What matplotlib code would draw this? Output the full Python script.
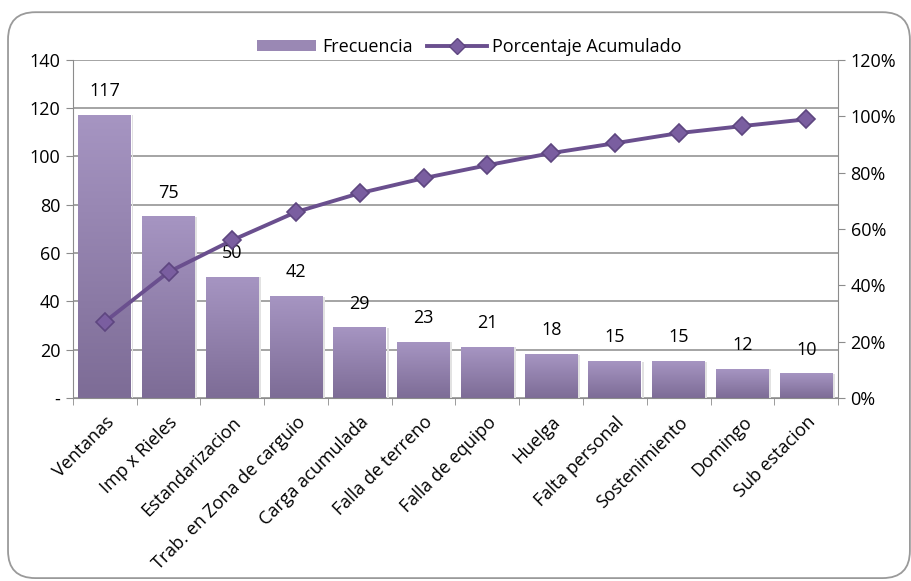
import numpy as np
import matplotlib
matplotlib.use("Agg")
import matplotlib.pyplot as plt
from matplotlib.patches import FancyBboxPatch
from matplotlib.lines import Line2D
from matplotlib.patches import Patch
from matplotlib.colors import LinearSegmentedColormap
from matplotlib.ticker import FuncFormatter

plt.rcParams['font.family'] = ['Open Sans', 'DejaVu Sans']

causas = ['Ventanas', 'Imp x Rieles', 'Estandarizacion', 'Trab. en Zona de carguio',
          'Carga acumulada', 'Falla de terreno', 'Falla de equipo', 'Huelga',
          'Falta personal', 'Sostenimiento', 'Domingo', 'Sub estacion']
frecuencia = [117, 75, 50, 42, 29, 23, 21, 18, 15, 15, 12, 10]
porc_acum = [27.0, 44.7, 56.0, 66.0, 72.7, 78.0, 82.6, 86.9, 90.4, 94.0, 96.5, 98.9]

bar_top = '#a695c2'
bar_bot = '#7d6c96'
line_col = '#6a4f8e'
fs = 13

fig = plt.figure(figsize=(9.11, 5.81), dpi=100)
ax = fig.add_axes([0.080, 0.315, 0.840, 0.582])
ax2 = ax.twinx()

x = np.arange(len(causas))
w = 0.83
bars = ax.bar(x, frecuencia, width=w, color=bar_top, zorder=2)

# vertical gradient inside each bar
cmap = LinearSegmentedColormap.from_list('grad', [bar_bot, bar_top])
grad = np.linspace(0, 1, 256).reshape(-1, 1)
for b in bars:
    x0, y0 = b.get_x(), b.get_y()
    ax.imshow(grad, cmap=cmap, origin='lower', aspect='auto', zorder=2.1,
              extent=(x0, x0 + b.get_width(), y0, y0 + b.get_height()))
    # soft shadow to the right
    ax.bar(x0 + b.get_width() + 0.005, b.get_height(), width=0.03, align='edge',
           color='#e2e2e2', zorder=1.9)

for xi, v in zip(x, frecuencia):
    ax.annotate(str(v), (xi, v), xytext=(0, 11), textcoords='offset points',
                ha='center', va='bottom', fontsize=fs, zorder=5)

ax.set_xlim(-0.5, len(causas) - 0.5)
ax.set_ylim(0, 140)
ax.set_yticks(range(0, 141, 20))
ax.yaxis.set_major_formatter(FuncFormatter(lambda v, p: '-' if v == 0 else '%d' % v))
ax.grid(axis='y', color='#8c8c8c', linewidth=1.1, zorder=0)
ax.set_axisbelow(True)

ax.set_xticks(x)
ax.set_xticklabels(causas, rotation=45, ha='right', rotation_mode='anchor', fontsize=fs)
ax.set_xticks(np.arange(-0.5, len(causas), 1), minor=True)
ax.tick_params(axis='x', which='major', length=0, pad=11)
ax.tick_params(axis='x', which='minor', length=5, color='#8c8c8c', direction='out')
ax.tick_params(axis='y', length=5, color='#8c8c8c', labelsize=fs, pad=4)

ax2.plot(x, porc_acum, color=line_col, linewidth=2.8, marker='D', markersize=9,
         markerfacecolor='#7a5ea0', markeredgecolor='#5e4680', markeredgewidth=1.2,
         zorder=4)
ax2.set_ylim(0, 120)
ax2.set_yticks(range(0, 121, 20))
ax2.yaxis.set_major_formatter(FuncFormatter(lambda v, p: '%d%%' % v))
ax2.tick_params(axis='y', length=5, color='#8c8c8c', labelsize=fs, pad=4)

for a in (ax, ax2):
    for s in a.spines.values():
        s.set_visible(False)
ax.spines['left'].set_visible(True)
ax.spines['left'].set_color('#8c8c8c')
ax.spines['bottom'].set_visible(True)
ax.spines['bottom'].set_color('#8c8c8c')
ax2.spines['right'].set_visible(True)
ax2.spines['right'].set_color('#8c8c8c')

handles = [Patch(facecolor='#9a88b4', edgecolor='none'),
           Line2D([], [], color=line_col, linewidth=2.8, marker='D', markersize=8,
                  markerfacecolor='#7a5ea0', markeredgecolor='#5e4680')]
fig.legend(handles, ['Frecuencia', 'Porcentaje Acumulado'], loc='center',
           bbox_to_anchor=(0.515, 0.919), ncol=2, frameon=False, fontsize=fs,
           handlelength=3.3, handleheight=0.6, columnspacing=0.8, handletextpad=0.3)

border = FancyBboxPatch((0.0088, 0.005), 0.990, 0.974, boxstyle='round,pad=0,rounding_size=0.03',
                        transform=fig.transFigure, facecolor='none', edgecolor='#9a9a9a',
                        linewidth=1.3, mutation_aspect=911 / 581)
fig.patches.append(border)

fig.savefig('out.png', dpi=100)
